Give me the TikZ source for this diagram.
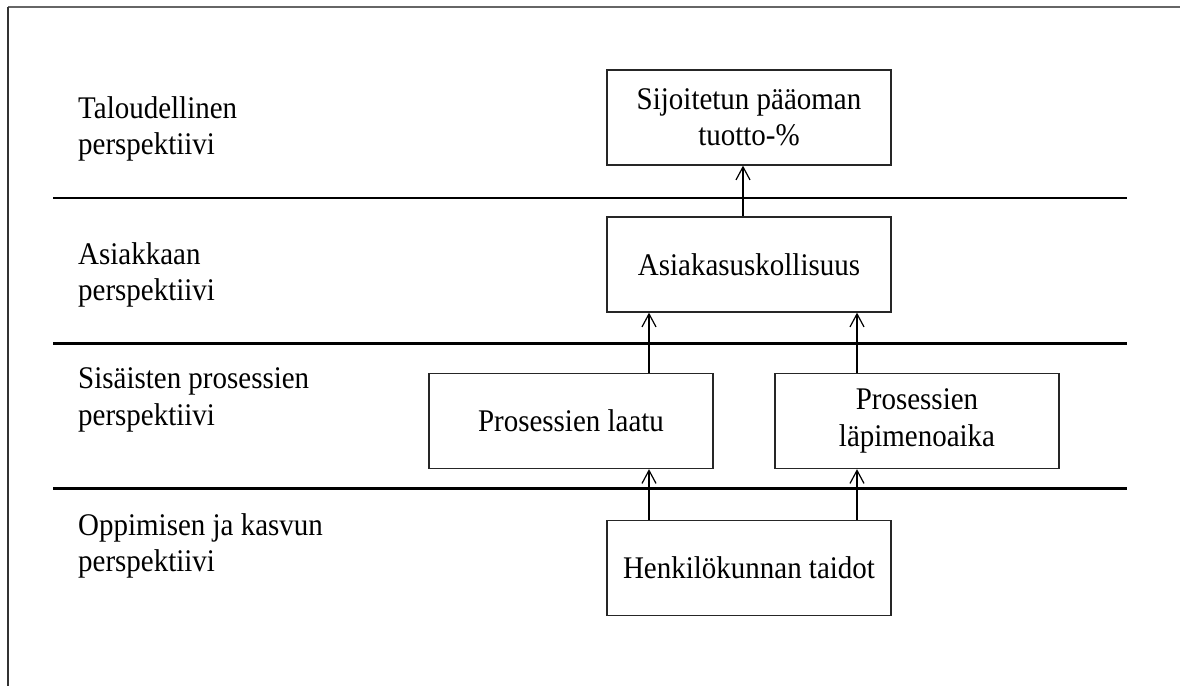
\documentclass[tikz,border=0pt]{standalone}
\usepackage{fontspec}
\setmainfont{Liberation Serif}[FakeStretch=0.92]
\usetikzlibrary{arrows.meta}
\begin{document}
\begin{tikzpicture}[x=1pt,y=-1pt,
  font=\fontsize{31.5}{36.5}\selectfont,
  stagebox/.style={draw=black!85,line width=1.3pt,rectangle,minimum width=284pt,minimum height=95pt,align=center,inner sep=0pt},
  lvl/.style={anchor=west,align=left,inner sep=0pt},
  sep/.style={line width=2.6pt,black},
  arr/.style={line width=1.4pt,-{Straight Barb[length=13pt,width=14pt,line width=1.2pt]}},
  frame/.style={line width=1.5pt,black!60}]
\useasboundingbox (0,0) rectangle (1180,686);
\fill[white] (0,0) rectangle (1180,686);
% frame
\draw[frame] (8,7) -- (1180,7);
\draw[frame,black!80] (8,7) -- (8,686);
% separators
\draw[sep] (53,198) -- (1127,198);
\draw[sep] (53,343.5) -- (1127,343.5);
\draw[sep] (53,488.5) -- (1127,488.5);
% level labels
\node[lvl] (l1) at (78,129) {Taloudellinen\\perspektiivi};
\node[lvl] (l2) at (78,275) {Asiakkaan\\perspektiivi};
\node[lvl] (l3) at (78,400) {Sisäisten prosessien\\perspektiivi};
\node[lvl] (l4) at (78,546) {Oppimisen ja kasvun\\perspektiivi};
% boxes
\node[stagebox] (b1) at (749,117.5) {Sijoitetun pääoman\\tuotto-\%};
\node[stagebox] (b2) at (749,264.5) {Asiakasuskollisuus};
\node[stagebox] (b3) at (571,421) {Prosessien laatu};
\node[stagebox] (b4) at (917,421) {Prosessien\\läpimenoaika};
\node[stagebox] (b5) at (749,568) {Henkilökunnan taidot};
% arrow columns
\coordinate (cA) at (743,0);
\coordinate (cL) at (649,0);
\coordinate (cR) at (857,0);
\draw[arr] (b2.north -| cA) -- (b1.south -| cA);
\draw[arr] (b3.north -| cL) -- (b2.south -| cL);
\draw[arr] (b4.north -| cR) -- (b2.south -| cR);
\draw[arr] (b5.north -| cL) -- (b3.south -| cL);
\draw[arr] (b5.north -| cR) -- (b4.south -| cR);
\end{tikzpicture}
\end{document}
